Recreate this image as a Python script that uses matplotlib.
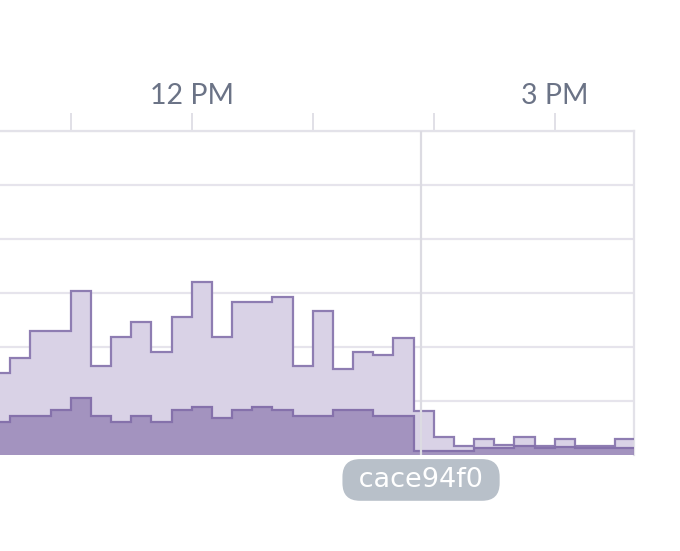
import numpy as np
import matplotlib.pyplot as plt
from matplotlib.ticker import FixedLocator, FixedFormatter

# 10-minute bins, minutes after midnight (10:20 .. 15:30)
bin_starts = list(range(620, 940, 10))
total_counts = [15.2, 18.0, 23.0, 23.0, 30.4, 16.4, 21.9, 24.6, 19.1, 25.6,
                32.1, 21.9, 28.3, 28.3, 29.3, 16.4, 26.7, 15.9, 19.1, 18.6,
                21.7, 8.2, 3.3, 1.7, 2.9, 1.9, 3.4, 1.7, 2.9, 1.7, 1.7, 2.9]
error_counts = [6.1, 7.3, 7.3, 8.3, 10.5, 7.3, 6.2, 7.3, 6.1, 8.3,
                8.9, 6.8, 8.3, 8.9, 8.3, 7.3, 7.3, 8.3, 8.3, 7.3,
                7.3, 0.7, 0.7, 0.7, 1.3, 1.3, 1.7, 1.3, 1.5, 1.3, 1.3, 1.3]
hour_ticks = [660, 720, 780, 840, 900]
hour_labels = ['', '12 PM', '', '', '3 PM']
release_time = 833.7
release_name = 'cace94f0'

edges = np.array(bin_starts + [bin_starts[-1] + 10])

fig = plt.figure(figsize=(6.8, 5.51), dpi=100)
ax = fig.add_axes([0, 96 / 551, 634 / 680, 324 / 551])

# light area = all events, dark area = errors
ax.stairs(total_counts, edges, fill=True, color='#d9d2e6', zorder=2)
ax.stairs(total_counts, edges, fill=False, color='#8e7db2', lw=1.6, zorder=3)
ax.stairs(error_counts, edges, fill=True, color='#a393bf', zorder=4)
ax.stairs(error_counts, edges, fill=False, color='#8571ab', lw=1.6, zorder=5)

# release marker (spaces widen the pill a bit)
ax.axvline(release_time, color='#dcdbe2', lw=1.6, zorder=6)
ax.annotate(' ' + release_name + ' ', xy=(release_time, -0.077),
            xycoords=('data', 'axes fraction'),
            ha='center', va='center', color='white', fontsize=19.5, family='DejaVu Sans',
            bbox=dict(boxstyle='round,pad=0.29,rounding_size=0.65', fc='#b8c0c9', ec='none'),
            annotation_clip=False)

ax.set_xlim(624.9, 939.3)
ax.set_ylim(0, 60)
ax.set_yticks(np.arange(0, 61, 10))
ax.yaxis.grid(True, color='#e6e4ec', lw=1.6, zorder=0)
ax.tick_params(axis='y', length=0, labelleft=False)

ax.xaxis.set_major_locator(FixedLocator(hour_ticks))
ax.xaxis.set_major_formatter(FixedFormatter(hour_labels))
ax.xaxis.tick_top()
ax.tick_params(axis='x', direction='out', length=13, width=1.4, color='#e1e0e7',
               pad=3, labelsize=20.5, labelcolor='#6b7386')
for lbl in ax.get_xticklabels():
    lbl.set_family('Lato')

for side in ['left', 'bottom']:
    ax.spines[side].set_visible(False)
for side in ['top', 'right']:
    ax.spines[side].set_color('#e3e2e9')
    ax.spines[side].set_linewidth(1.6)

fig.savefig('out.png', dpi=100)
